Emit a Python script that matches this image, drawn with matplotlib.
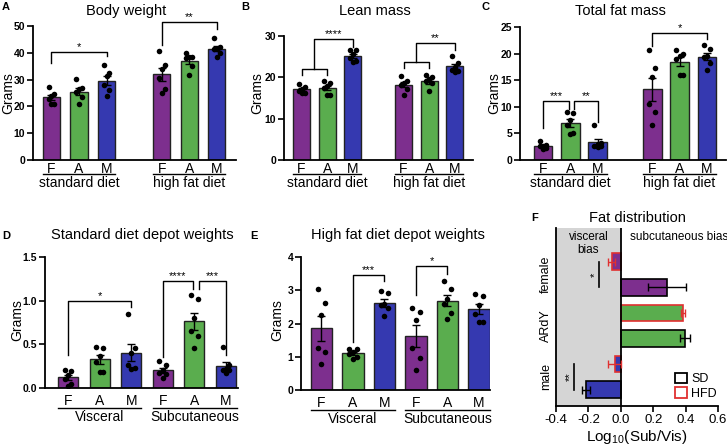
import numpy as np
import matplotlib
matplotlib.use('Agg')
import matplotlib.pyplot as plt
from matplotlib import patches
from matplotlib.transforms import ScaledTranslation

plt.rcParams['font.family'] = ['Liberation Sans', 'DejaVu Sans']
plt.rcParams['mathtext.fontset'] = 'custom'
plt.rcParams['mathtext.rm'] = 'Liberation Sans'

# DATA
PURPLE, GREEN, BLUE = '#7d2f8e', '#5aad4e', '#3539b0'
GROUP_LABELS = ['F', 'A', 'M', 'F', 'A', 'M']

body_weight = [[27.2, 24.8, 23.7, 22.7, 21.0, 20.8],
               [30.1, 26.8, 26.4, 25.4, 23.4, 21.0],
               [35.3, 32.6, 31.5, 28.0, 26.2, 24.0],
               [40.6, 35.6, 34.0, 30.5, 26.5, 25.0],
               [39.8, 38.6, 38.6, 38.2, 35.1, 31.8],
               [45.4, 42.0, 41.3, 41.3, 40.0, 38.6]]
lean_mass = [[18.4, 17.6, 17.1, 16.8, 16.3, 16.2],
             [19.0, 18.7, 17.9, 17.4, 15.8, 15.8],
             [26.6, 26.6, 25.6, 24.6, 24.0, 23.7],
             [20.4, 19.2, 18.6, 18.2, 17.1, 15.8],
             [20.6, 20.2, 19.5, 19.0, 18.6, 16.6],
             [25.2, 23.4, 22.6, 21.8, 21.6, 21.2]]
fat_mass = [[3.5, 2.8, 2.7, 2.6, 2.3, 2.1],
            [9.0, 8.8, 7.6, 6.6, 5.1, 4.8],
            [6.5, 3.2, 3.1, 2.6, 2.6, 2.4],
            [20.6, 17.3, 15.6, 10.6, 9.0, 6.5],
            [20.7, 20.0, 19.5, 18.9, 15.9, 15.9],
            [21.7, 20.9, 19.5, 19.4, 18.2, 16.9]]
sd_depot = [[0.21, 0.20, 0.15, 0.10, 0.05, 0.02],
            [0.47, 0.46, 0.37, 0.30, 0.18, 0.18],
            [0.85, 0.46, 0.40, 0.26, 0.23, 0.22],
            [0.31, 0.26, 0.21, 0.17, 0.16, 0.11],
            [1.065, 1.02, 0.80, 0.65, 0.60, 0.455],
            [0.47, 0.26, 0.22, 0.21, 0.21, 0.17]]
hfd_depot = [[3.05, 2.62, 2.25, 1.25, 1.15, 0.78],
             [1.24, 1.22, 1.15, 1.08, 1.00, 0.92],
             [2.98, 2.92, 2.60, 2.55, 2.48, 2.22],
             [2.48, 2.35, 2.10, 1.25, 0.97, 0.60],
             [3.28, 3.05, 2.75, 2.60, 2.32, 2.15],
             [2.88, 2.82, 2.55, 2.30, 2.05, 2.05]]

# fat distribution (log10 sub/vis), groups bottom to top
fd_groups = ['male', 'ARdY', 'female']
fd_sd = [-0.216, 0.396, 0.285]
fd_sd_err = [0.025, 0.03, 0.115]
fd_hfd = [-0.037, 0.386, -0.056]
fd_hfd_err = [0.04, 0.012, 0.022]

W, H = 727, 447
fig = plt.figure(figsize=(W / 100, H / 100), dpi=100)


def rect(l, t, r, b):
    return [l / W, 1 - b / H, (r - l) / W, (b - t) / H]


def ftext(x, y, s, **kw):
    fig.text(x / W, 1 - y / H, s, ha='center', va='center', **kw)


JIT = np.array([-0.17, 0.17, 0.0, -0.17, 0.17, 0.0])


def bar_panel(ax, pos, data, ymax, yticks, width, tickpad):
    cols = [PURPLE, GREEN, BLUE] * 2
    for p, pts, c in zip(pos, data, cols):
        pts = np.array(pts)
        m = pts.mean()
        sem = pts.std(ddof=1) / np.sqrt(len(pts))
        ax.bar(p, m, width=width, color=c, edgecolor='#222222', linewidth=1, zorder=2)
        ax.errorbar(p, m, yerr=sem, color='k', lw=1, capsize=3, capthick=1, zorder=3)
        ax.scatter(p + JIT[:len(pts)] * width, pts, s=16, color='k', zorder=4, linewidths=0)
    ax.set_ylim(0, ymax)
    ax.set_yticks(yticks)
    ax.set_xticks(pos)
    ax.set_xticklabels(GROUP_LABELS, fontsize=10)
    ax.tick_params(axis='x', length=0, pad=tickpad)
    ax.tick_params(axis='y', length=4, width=1.2, labelsize=7.5, pad=1.5)
    for lab in ax.get_yticklabels():
        lab.set_fontweight('bold')
    for s in ['top', 'right']:
        ax.spines[s].set_visible(False)
    for s in ['left', 'bottom']:
        ax.spines[s].set_linewidth(1.3)


def group_label(ax, x0, x1, text, line_dy, text_dy):
    tr_l = ax.get_xaxis_transform() + ScaledTranslation(0, -line_dy / 100, fig.dpi_scale_trans)
    tr_t = ax.get_xaxis_transform() + ScaledTranslation(0, -text_dy / 100, fig.dpi_scale_trans)
    ax.plot([x0, x1], [0, 0], color='k', lw=1, transform=tr_l, clip_on=False)
    ax.text((x0 + x1) / 2, 0, text, transform=tr_t, ha='center', va='center', fontsize=10)


def bracket(ax, x1, x2, y, y1, y2, label):
    ax.plot([x1, x1, x2, x2], [y1, y, y, y2], color='k', lw=1, clip_on=False)
    ax.annotate(label, xy=((x1 + x2) / 2, y), xytext=(0, 0), textcoords='offset points',
                ha='center', va='bottom', fontsize=8, annotation_clip=False)


pos3 = np.array([0, 1, 2, 4, 5, 6])
pos_d = np.arange(6)

# A
axA = fig.add_axes(rect(33, 26, 236, 160))
bar_panel(axA, pos3, body_weight, 50, [0, 10, 20, 30, 40, 50], 0.62, 1.5)
axA.set_xlim(-0.67, 6.7)
group_label(axA, -0.31, 2.31, 'standard diet', 14, 23)
group_label(axA, 3.69, 6.31, 'high fat diet', 14, 23)
bracket(axA, 0, 2, 40.2, 36.3, 38.8, '*')
bracket(axA, 4, 6, 51.6, 43, 49, '**')

# B
axB = fig.add_axes(rect(284, 36, 473, 160))
bar_panel(axB, pos3, lean_mass, 30, [0, 10, 20, 30], 0.67, 1.5)
axB.set_xlim(-0.69, 6.72)
group_label(axB, -0.33, 2.33, 'standard diet', 14, 23)
group_label(axB, 3.67, 6.33, 'high fat diet', 14, 23)
bracket(axB, 0, 1, 22, 20.6, 20.6, '')
bracket(axB, 0.5, 2, 29.2, 22, 27.4, '****')
bracket(axB, 4, 5, 23.8, 22.2, 22.2, '')
bracket(axB, 4.5, 6, 28.2, 23.8, 26.6, '**')

# C
axC = fig.add_axes(rect(520, 27, 726, 160))
bar_panel(axC, pos3, fat_mass, 25, [0, 5, 10, 15, 20, 25], 0.68, 1.5)
axC.set_xlim(-0.84, 6.7)
group_label(axC, -0.34, 2.34, 'standard diet', 14, 23)
group_label(axC, 3.66, 6.34, 'high fat diet', 14, 23)
bracket(axC, 0, 0.97, 11.0, 6.0, 9.5, '***')
bracket(axC, 1.15, 2, 11.0, 9.5, 7.1, '**')
bracket(axC, 4, 6, 23.9, 21.5, 22.7, '*')

# D
axD = fig.add_axes(rect(45, 257, 238, 388))
bar_panel(axD, pos_d, sd_depot, 1.5, [0.0, 0.5, 1.0, 1.5], 0.63, 4)
axD.set_yticklabels(['0.0', '0.5', '1.0', '1.5'], fontweight='bold')
axD.set_xlim(-0.73, 5.38)
group_label(axD, -0.32, 2.32, 'Visceral', 20, 29)
group_label(axD, 2.68, 5.35, 'Subcutaneous', 20, 29)
bracket(axD, 0, 2, 1.0, 0.38, 0.925, '*')
bracket(axD, 3, 3.95, 1.22, 0.36, 1.13, '****')
bracket(axD, 4.14, 5, 1.22, 1.13, 0.38, '***')

# E
axE = fig.add_axes(rect(301, 257, 490, 390))
bar_panel(axE, pos_d, hfd_depot, 4, [0, 1, 2, 3, 4], 0.67, 4)
axE.set_xlim(-0.65, 5.35)
group_label(axE, -0.34, 2.34, 'Visceral', 20, 29)
group_label(axE, 2.66, 5.34, 'Subcutaneous', 20, 29)
bracket(axE, 1, 2, 3.47, 1.45, 3.27, '***')
bracket(axE, 3, 4, 3.72, 2.85, 3.5, '*')

for x in [8, 257, 494]:
    ftext(x, 93, 'Grams', rotation=90, fontsize=10)
for x in [17, 277]:
    ftext(x, 320, 'Grams', rotation=90, fontsize=10)

# F
axF = fig.add_axes(rect(556, 228, 718, 406))
axF.set_xlim(-0.4, 0.6)
axF.set_ylim(-0.64, 6.32)
axF.axvspan(-0.4, 0, color='#d5d5d5', zorder=0, lw=0)
axF.axvline(0, color='k', lw=1.3, zorder=3)
gcols = [BLUE, GREEN, PURPLE]
for i in range(3):
    axF.barh(2 * i, fd_sd[i], height=0.65, color=gcols[i], edgecolor='k', lw=1.2, zorder=2)
    axF.errorbar(fd_sd[i], 2 * i, xerr=fd_sd_err[i], color='k', lw=1, capsize=3, zorder=4)
    axF.barh(2 * i + 1, fd_hfd[i], height=0.65, color=gcols[i], edgecolor='#e03030', lw=1.2, zorder=2)
    axF.errorbar(fd_hfd[i], 2 * i + 1, xerr=fd_hfd_err[i], color='#e03030', lw=1, capsize=3, zorder=4)
axF.set_yticks([0.5, 2.5, 4.5])
axF.set_yticklabels(fd_groups, rotation=90, va='center', fontsize=9)
axF.tick_params(axis='y', length=0, pad=3)
axF.set_xticks([-0.4, -0.2, 0.0, 0.2, 0.4, 0.6])
axF.set_xticklabels(['-0.4', '-0.2', '0.0', '0.2', '0.4', '0.6'], fontsize=9.5)
axF.tick_params(axis='x', length=4, width=1.2, pad=2)
axF.set_xlabel(r'Log$_{10}$(Sub/Vis)', fontsize=11, labelpad=1)
for s in ['top', 'right']:
    axF.spines[s].set_visible(False)
for s in ['left', 'bottom']:
    axF.spines[s].set_linewidth(1.3)
axF.plot([-0.134, -0.134], [4, 5], color='k', lw=1.2)
axF.text(-0.158, 4.5, '*', rotation=90, ha='center', va='center', fontsize=8)
axF.plot([-0.289, -0.289], [0, 1], color='k', lw=1.2)
axF.text(-0.313, 0.5, '**', rotation=90, ha='center', va='center', fontsize=8)
axF.text(-0.2, 5.71, 'visceral\nbias', ha='center', va='center', fontsize=8.5, linespacing=1.1)
axF.text(0.36, 5.96, 'subcutaneous bias', ha='center', va='center', fontsize=8.5, clip_on=False)
handles = [patches.Patch(facecolor='white', edgecolor='k', lw=1.3, label='SD'),
           patches.Patch(facecolor='white', edgecolor='#e03030', lw=1.3, label='HFD')]
axF.legend(handles=handles, loc='lower right', frameon=False, fontsize=9,
           handlelength=1.0, handleheight=0.9, handletextpad=0.3, labelspacing=0.15,
           borderaxespad=0.1, bbox_to_anchor=(1.03, 0.0))

# titles and panel letters
ftext(126, 11, 'Body weight', fontsize=10.5)
ftext(375, 11, 'Lean mass', fontsize=10.5)
ftext(620, 11, 'Total fat mass', fontsize=10.5)
ftext(142, 235, 'Standard diet depot weights', fontsize=10.5)
ftext(398, 235, 'High fat diet depot weights', fontsize=10.5)
ftext(637, 218, 'Fat distribution', fontsize=10.5)
for x, y, s in [(6, 7, 'A'), (245, 7, 'B'), (485, 7, 'C'), (6, 236, 'D'), (254, 236, 'E'), (535, 218, 'F')]:
    ftext(x, y, s, fontsize=8, fontweight='bold')

fig.savefig('out.png', dpi=100)
